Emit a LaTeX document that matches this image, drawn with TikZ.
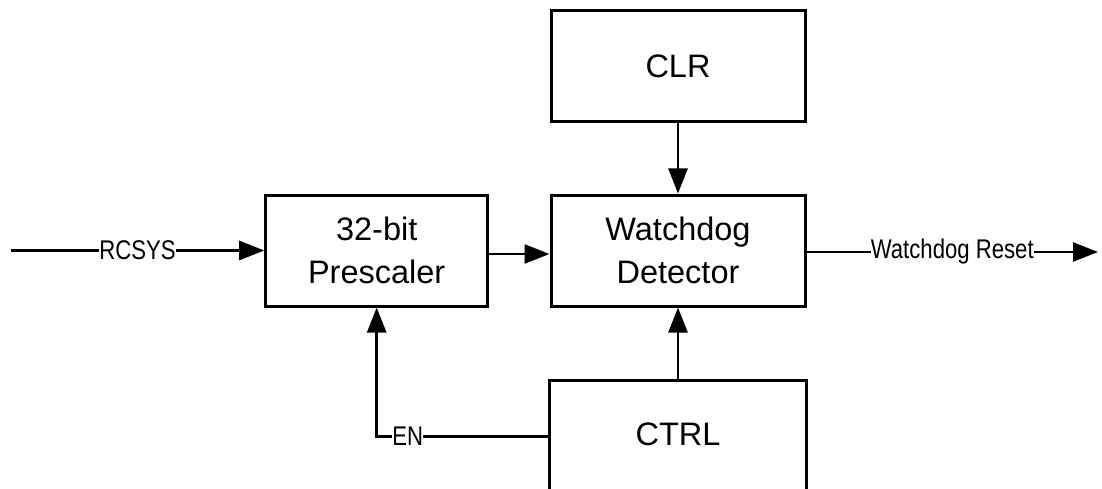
\documentclass[tikz,border=0pt]{standalone}
\usepackage{fontspec}
\setmainfont{Liberation Sans}
\newfontfamily\narrowlab[FakeStretch=0.82]{Liberation Sans}
\usetikzlibrary{arrows.meta,calc}
\begin{document}
\begin{tikzpicture}[x=1pt,y=-1pt,
  blk/.style={draw, line width=3pt, minimum width=254, minimum height=111, align=center, inner sep=0pt,
              font=\fontsize{32.5}{43}\selectfont},
  wire/.style={line width=2.6pt},
  arr/.style={wire, -{Triangle[length=25pt,width=19pt]}},
  lab/.style={fill=white, inner sep=0pt, font=\narrowlab\fontsize{27}{28}\selectfont}]
\useasboundingbox (0,0) rectangle (1102,489);
\clip (0,0) rectangle (1102,489);
\node[blk] (clr) at (678,66) {CLR};
\node[blk] (wd) at (678,250.5) {Watchdog\\Detector};
\node[blk, minimum width=222] (pre) at (376.7,250.5) {32-bit\\Prescaler};
\node[blk, draw=none, minimum height=106, anchor=north] (ctrl) at (678,380) {CTRL};
\draw[line width=3pt] ([yshift=-20pt]ctrl.south west) |- (ctrl.north east) -- ([yshift=-20pt]ctrl.south east);
\coordinate (rin) at (11,250.5);
\coordinate (rout) at (1098,252);
\draw[arr] (rin) -- node[lab]{RCSYS} (pre.west);
\draw[arr] ([yshift=-3.5pt]pre.east) -- ([yshift=-3.5pt]wd.west);
\draw[arr] (clr.south) -- (wd.north);
\draw[arr] (ctrl.north) -- (wd.south);
\draw[arr] ([yshift=-2pt]ctrl.west) -| node[lab, pos=0.41]{EN} (pre.south);
\draw[arr] ([yshift=-1.5pt]wd.east) -- node[lab]{Watchdog Reset} (rout);
\end{tikzpicture}
\end{document}
